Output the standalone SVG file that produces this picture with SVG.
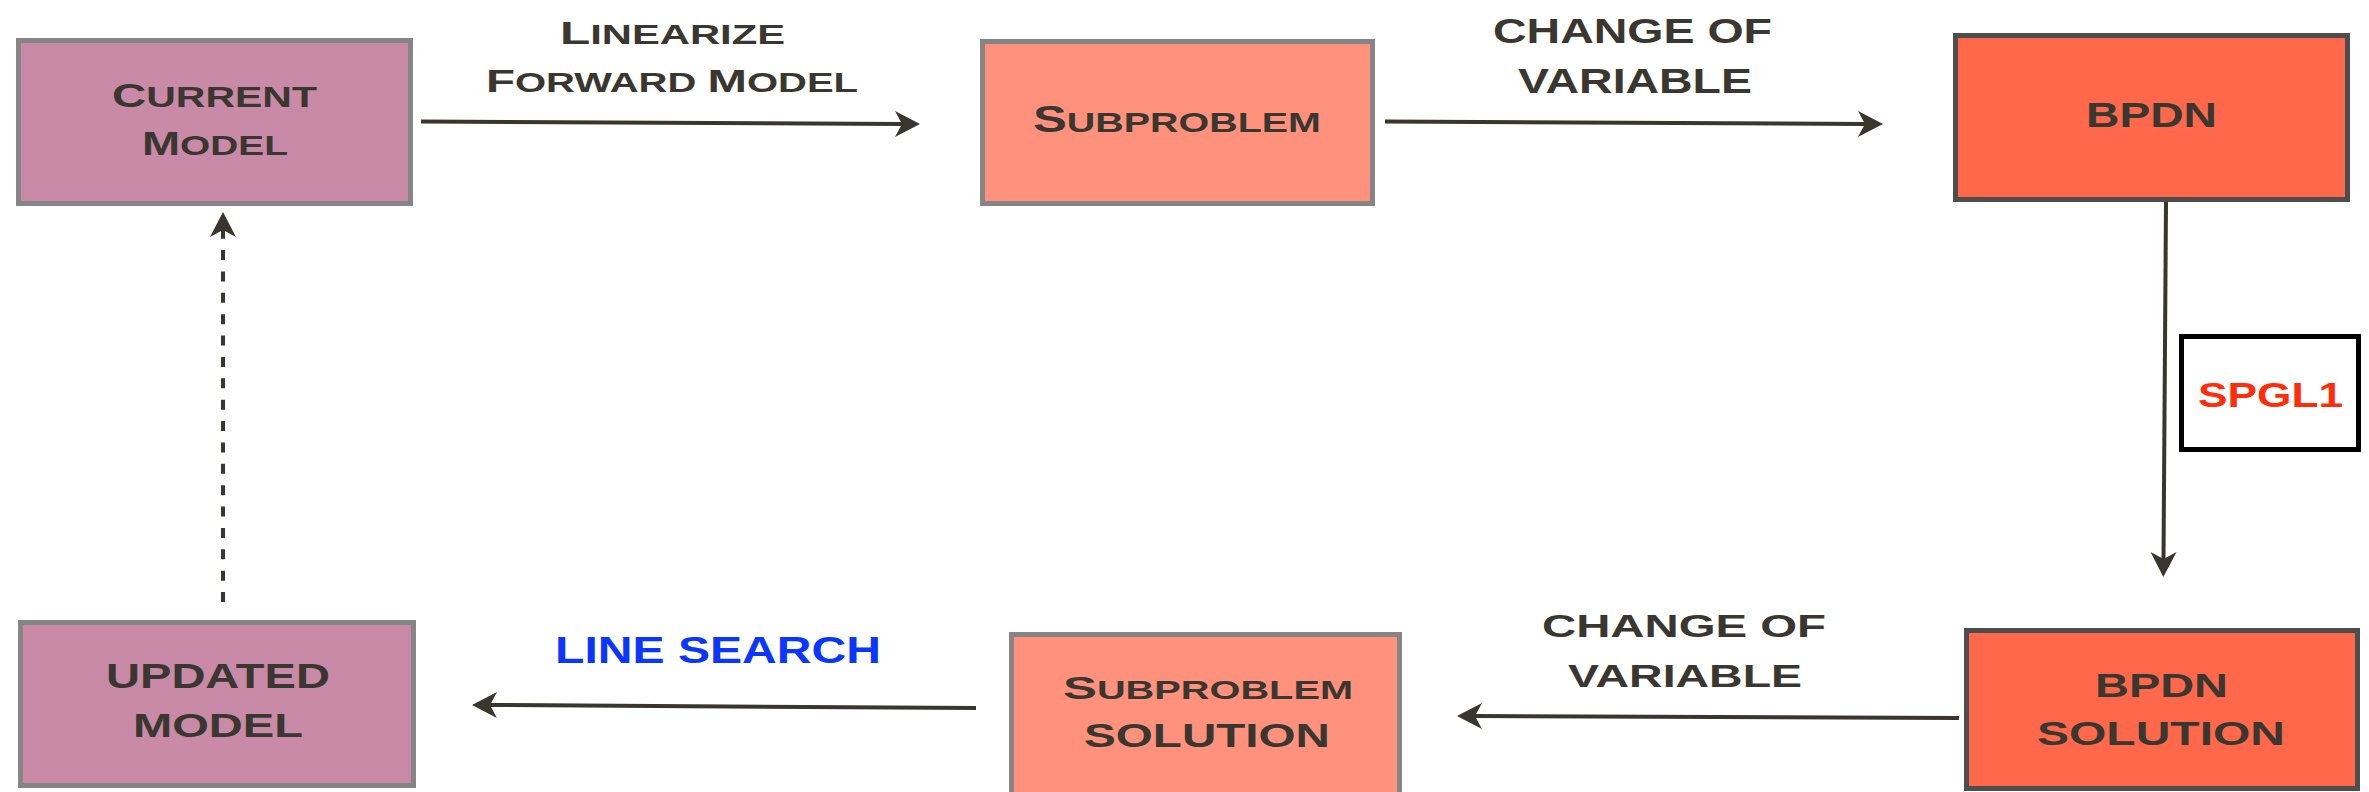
<svg xmlns="http://www.w3.org/2000/svg" width="2369" height="792" viewBox="0 0 2369 792">
<defs>
<style>
.box{stroke-width:5}
.mag{fill:#C98AA7;stroke:#858585}
.sal{fill:#FF917D;stroke:#858585}
.red{fill:#FF684B;stroke:#4D4D4D}
.t{font-family:"Liberation Sans",Arial,sans-serif;fill:#3A3630}
.b{font-weight:bold}
.conn{stroke:#3A352D;stroke-width:4;fill:none}
</style>
<marker id="arrow" markerUnits="userSpaceOnUse" markerWidth="25" markerHeight="26" refX="7" refY="13" orient="auto" overflow="visible">
<path d="M0,0 L25,13 L0,26 L7,13 Z" fill="#3A352D"/>
</marker>
</defs>
<rect width="2369" height="792" fill="#ffffff"/>

<g id="connectors">
<line class="conn" x1="421" y1="121.5" x2="902" y2="124" marker-end="url(#arrow)"/>
<line class="conn" x1="1385" y1="121.5" x2="1865" y2="124" marker-end="url(#arrow)"/>
<line class="conn" x1="2166" y1="202" x2="2163.5" y2="559" marker-end="url(#arrow)"/>
<line class="conn" x1="1959" y1="718" x2="1475" y2="716" marker-end="url(#arrow)"/>
<line class="conn" x1="976" y1="708" x2="490" y2="705" marker-end="url(#arrow)"/>
<line class="conn" x1="223" y1="602" x2="223" y2="230" stroke-width="5" stroke-dasharray="10 11.375" marker-end="url(#arrow)"/>
<text class="t b" x="560" y="44" textLength="225" lengthAdjust="spacingAndGlyphs"><tspan font-size="32">L</tspan><tspan font-size="27">INEARIZE</tspan></text>
<text class="t b" x="486" y="92" textLength="372" lengthAdjust="spacingAndGlyphs"><tspan font-size="32">F</tspan><tspan font-size="27">ORWARD </tspan><tspan font-size="32">M</tspan><tspan font-size="27">ODEL</tspan></text>
<text class="t b" x="1493" y="43" font-size="35" textLength="279" lengthAdjust="spacingAndGlyphs">CHANGE OF</text>
<text class="t b" x="1518" y="93" font-size="35" textLength="234" lengthAdjust="spacingAndGlyphs">VARIABLE</text>
<text class="t b" x="1542" y="637" font-size="32" textLength="284" lengthAdjust="spacingAndGlyphs">CHANGE OF</text>
<text class="t b" x="1568" y="687" font-size="32" textLength="234" lengthAdjust="spacingAndGlyphs">VARIABLE</text>
<text class="b" x="555" y="663" font-family="Liberation Sans, Arial, sans-serif" font-size="36" fill="#0A36FF" textLength="326" lengthAdjust="spacingAndGlyphs">LINE SEARCH</text>
</g>

<g id="current-model">
<rect class="box mag" x="18.5" y="40.5" width="392" height="163"/>
<text class="t b" x="112" y="107" textLength="205" lengthAdjust="spacingAndGlyphs"><tspan font-size="33.5">C</tspan><tspan font-size="29">URRENT</tspan></text>
<text class="t b" x="142" y="155" textLength="146" lengthAdjust="spacingAndGlyphs"><tspan font-size="33">M</tspan><tspan font-size="28">ODEL</tspan></text>
</g>

<g id="subproblem">
<rect class="box sal" x="982.5" y="41.5" width="390" height="162"/>
<text class="t b" x="1033" y="132" textLength="288" lengthAdjust="spacingAndGlyphs"><tspan font-size="36">S</tspan><tspan font-size="28">UBPROBLEM</tspan></text>
</g>

<g id="bpdn">
<rect class="box red" x="1955.5" y="35.5" width="392" height="164"/>
<text class="t b" x="2086" y="127" font-size="35" textLength="131" lengthAdjust="spacingAndGlyphs">BPDN</text>
</g>

<g id="spgl1">
<rect x="2181.5" y="336.5" width="177" height="113" fill="#ffffff" stroke="#000000" stroke-width="5"/>
<text class="b" x="2198" y="407" font-family="Liberation Sans, Arial, sans-serif" font-size="35" fill="#FF2D0A" textLength="145" lengthAdjust="spacingAndGlyphs">SPGL1</text>
</g>

<g id="bpdn-solution">
<rect class="box red" x="1966.5" y="630.5" width="391" height="158"/>
<text class="t b" x="2095" y="697" font-size="34" textLength="133" lengthAdjust="spacingAndGlyphs">BPDN</text>
<text class="t b" x="2037" y="745" font-size="33" textLength="248" lengthAdjust="spacingAndGlyphs">SOLUTION</text>
</g>

<g id="subproblem-solution">
<rect class="box sal" x="1011.5" y="634.5" width="388" height="170"/>
<text class="t b" x="1063" y="699" textLength="290" lengthAdjust="spacingAndGlyphs"><tspan font-size="32">S</tspan><tspan font-size="25">UBPROBLEM</tspan></text>
<text class="t b" x="1084" y="747" font-size="33" textLength="246" lengthAdjust="spacingAndGlyphs">SOLUTION</text>
</g>

<g id="updated-model">
<rect class="box mag" x="20.5" y="622.5" width="393" height="163"/>
<text class="t b" x="106" y="688" font-size="35" textLength="224" lengthAdjust="spacingAndGlyphs">UPDATED</text>
<text class="t b" x="133" y="737" font-size="34" textLength="170" lengthAdjust="spacingAndGlyphs">MODEL</text>
</g>
</svg>
